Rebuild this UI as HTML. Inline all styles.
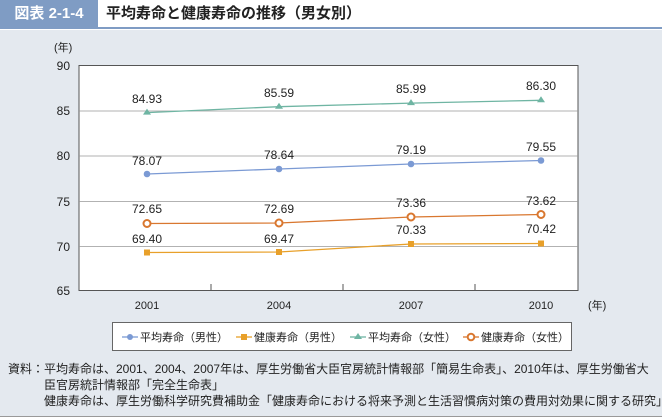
<!DOCTYPE html>
<html><head><meta charset="utf-8"><style>
body{margin:0;width:662px;height:419px;background:#fff;font-family:"Liberation Sans","Noto Sans CJK JP",sans-serif;overflow:hidden;position:relative}
.hd{position:absolute;left:0;top:0;width:98px;height:27px;background:#7f9cc4;color:#fff;font-weight:bold;font-size:15px;line-height:27px;text-align:center}
.tt{position:absolute;left:106px;top:0;height:27px;line-height:27px;font-size:15px;font-weight:bold;color:#222}
.line{position:absolute;left:0;top:27px;width:662px;height:2px;background:#7f9cc4}
.panel{position:absolute;left:0;top:30px;width:662px;height:386px;background:#e4e9ef;border-bottom:1px solid #999}
.fn{position:absolute;left:8px;top:361px;font-size:12px;line-height:16px;color:#222;white-space:nowrap}
</style></head><body>
<div class="hd">図表 2-1-4</div>
<div class="tt">平均寿命と健康寿命の推移（男女別）</div>
<div class="line"></div>
<div class="panel"></div>
<svg width="662" height="419" style="position:absolute;left:0;top:0" font-family="Liberation Sans, Noto Sans CJK JP, sans-serif">
<rect x="79" y="65.5" width="499" height="225" fill="#fff" stroke="#555"/>
<g stroke="#999" stroke-width="0.8">
<line x1="79" y1="111" x2="578" y2="111"/><line x1="79" y1="156" x2="578" y2="156"/>
<line x1="79" y1="201.5" x2="578" y2="201.5"/><line x1="79" y1="246.5" x2="578" y2="246.5"/>
</g>
<g stroke="#555"><line x1="211" y1="290" x2="211" y2="284"/><line x1="343" y1="290" x2="343" y2="284"/><line x1="475" y1="290" x2="475" y2="284"/></g>
<g font-size="12" fill="#222" text-anchor="end">
<text x="70" y="70">90</text><text x="70" y="115">85</text><text x="70" y="160">80</text><text x="70" y="206">75</text><text x="70" y="251">70</text><text x="70" y="295">65</text>
</g>
<text x="54" y="51" font-size="11" fill="#222">(年)</text>
<g font-size="11" fill="#222" text-anchor="middle">
<text x="147" y="309">2001</text><text x="279" y="309">2004</text><text x="411" y="309">2007</text><text x="541" y="309">2010</text>
</g>
<text x="588" y="309" font-size="11" fill="#222">(年)</text>
<polyline points="147,112.6 279,106.7 411,103.1 541,100.3" fill="none" stroke="#6fb5a3" stroke-width="1.3"/>
<g fill="#6fb5a3"><path d="M147,108.6l4,6h-8z"/><path d="M279,102.7l4,6h-8z"/><path d="M411,99.1l4,6h-8z"/><path d="M541,96.3l4,6h-8z"/></g>
<polyline points="147,174 279,169 411,164 541,160.5" fill="none" stroke="#7b9ad4" stroke-width="1.3"/>
<g fill="#7b9ad4"><circle cx="147" cy="174" r="3.3"/><circle cx="279" cy="169" r="3.3"/><circle cx="411" cy="164" r="3.3"/><circle cx="541" cy="160.5" r="3.3"/></g>
<polyline points="147,223.5 279,223 411,217 541,214.5" fill="none" stroke="#d9772f" stroke-width="1.3"/>
<g fill="#fff" stroke="#d9772f" stroke-width="2"><circle cx="147" cy="223.5" r="3.5"/><circle cx="279" cy="223" r="3.5"/><circle cx="411" cy="217" r="3.5"/><circle cx="541" cy="214.5" r="3.5"/></g>
<polyline points="147,252.5 279,252 411,244 541,243.5" fill="none" stroke="#e8a02a" stroke-width="1.3"/>
<g fill="#e8a02a"><rect x="144" y="249.5" width="6" height="6"/><rect x="276" y="249" width="6" height="6"/><rect x="408" y="241" width="6" height="6"/><rect x="538" y="240.5" width="6" height="6"/></g>
<g font-size="12" fill="#222" text-anchor="middle">
<text x="147" y="103">84.93</text><text x="279" y="97">85.59</text><text x="411" y="93">85.99</text><text x="541" y="90">86.30</text>
<text x="147" y="165">78.07</text><text x="279" y="159">78.64</text><text x="411" y="154">79.19</text><text x="541" y="151">79.55</text>
<text x="147" y="213">72.65</text><text x="279" y="213">72.69</text><text x="411" y="207">73.36</text><text x="541" y="205">73.62</text>
<text x="147" y="243">69.40</text><text x="279" y="243">69.47</text><text x="411" y="234">70.33</text><text x="541" y="233">70.42</text>
</g>
<rect x="112.5" y="322.5" width="459" height="28" fill="#fff" stroke="#666"/>
<g font-size="11" fill="#222">
<line x1="122" y1="337" x2="138" y2="337" stroke="#7b9ad4" stroke-width="1.3"/><circle cx="130" cy="337" r="3" fill="#7b9ad4"/>
<text x="140" y="341">平均寿命（男性）</text>
<line x1="236" y1="337" x2="252" y2="337" stroke="#e8a02a" stroke-width="1.3"/><rect x="241" y="334" width="6" height="6" fill="#e8a02a"/>
<text x="254" y="341">健康寿命（男性）</text>
<line x1="350" y1="337" x2="366" y2="337" stroke="#6fb5a3" stroke-width="1.3"/><path d="M358,333l4,6h-8z" fill="#6fb5a3"/>
<text x="368" y="341">平均寿命（女性）</text>
<line x1="463" y1="337" x2="479" y2="337" stroke="#d9772f" stroke-width="1.3"/><circle cx="471" cy="337" r="3.3" fill="#fff" stroke="#d9772f" stroke-width="2"/>
<text x="481" y="341">健康寿命（女性）</text>
</g>
</svg>
<div class="fn">資料：平均寿命は、2001、2004、2007年は、厚生労働省大臣官房統計情報部「簡易生命表」、2010年は、厚生労働省大<br>　　　臣官房統計情報部「完全生命表」<br>　　　健康寿命は、厚生労働科学研究費補助金「健康寿命における将来予測と生活習慣病対策の費用対効果に関する研究」</div>
</body></html>
